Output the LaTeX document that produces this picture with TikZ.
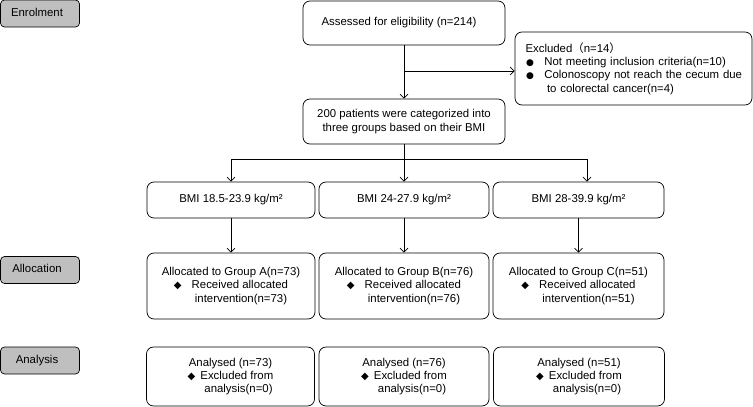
\documentclass[tikz,border=0pt]{standalone}
\usepackage{fontspec}
\setmainfont{Liberation Sans}
\newfontfamily\symf{DejaVu Sans}
\newfontfamily\cjk{Noto Sans CJK SC}
\usetikzlibrary{arrows.meta}
\newcommand{\dia}{{\symf\fontsize{10}{10}\selectfont ◆}}
\newcommand{\bul}{{\symf\fontsize{9}{9}\selectfont ●}}
\definecolor{stagegray}{HTML}{BFBFBF}
\begin{document}
\begin{tikzpicture}[x=1pt,y=-1pt,
  every node/.style={font=\fontsize{11.4}{13.2}\selectfont, inner sep=0pt},
  stage/.style={draw, line width=0.7pt, fill=stagegray, rounded corners=4pt, minimum width=79pt, minimum height=27pt},
  box/.style={draw, line width=0.7pt, rounded corners=7pt, align=center},
  conn/.style={line width=0.7pt},
  arr/.style={conn, -{Straight Barb[length=4pt,width=8pt]}}]
\useasboundingbox (0,0) rectangle (753,407);
% stage labels
\node[stage] (enrol) at (40,13.5) {\raisebox{2.5pt}{Enrolment}\hspace*{6pt}};
\node[stage] (alloc) at (40,270) {\raisebox{2.5pt}{Allocation}\hspace*{6pt}};
\node[stage] (anal) at (40,360.5) {\raisebox{2pt}{Analysis}\hspace*{6pt}};
% enrolment
\node[box, minimum width=202pt, minimum height=44pt] (assess) at (404,23) {Assessed for eligibility (n=214)\hspace*{10pt}};
\node[box, minimum width=237pt, minimum height=73pt, text width=228pt, align=left] (excl) at (633.5,68.5)
 {\hspace*{6pt}Excluded{\cjk （}n=14{\cjk ）}\\
  \hspace*{6.5pt}\bul\hspace{10.5pt}Not meeting inclusion criteria(n=10)\\
  \hspace*{6.5pt}\bul\hspace{10.5pt}Colonoscopy not reach the cecum due\\
  \hspace*{27.5pt}to colorectal cancer(n=4)};
\node[box, minimum width=202pt, minimum height=45pt] (pat) at (404,121.5) {200 patients were categorized into\\three groups based on their BMI};
% BMI
\node[box, minimum width=168pt, minimum height=36pt] (bmiA) at (231,200) {BMI 18.5-23.9 kg/m²};
\node[box, minimum width=170pt, minimum height=36pt] (bmiB) at (404,200) {BMI 24-27.9 kg/m²};
\node[box, minimum width=171pt, minimum height=36pt] (bmiC) at (578.5,200) {BMI 28-39.9 kg/m²};
% allocation
\node[box, minimum width=168pt, minimum height=66pt] (allA) at (231,286) {Allocated to Group A(n=73)\\ \dia\hspace{10pt}Received allocated\\ \hspace*{20pt}intervention(n=73)};
\node[box, minimum width=170pt, minimum height=66pt] (allB) at (404,286) {Allocated to Group B(n=76)\\ \dia\hspace{10pt}Received allocated\\ \hspace*{20pt}intervention(n=76)};
\node[box, minimum width=171pt, minimum height=66pt] (allC) at (578.5,286) {Allocated to Group C(n=51)\\ \dia\hspace{10pt}Received allocated\\ \hspace*{20pt}intervention(n=51)};
% analysis
\node[box, minimum width=168pt, minimum height=59pt] (anA) at (230.5,376.5) {Analysed (n=73)\\ \dia\hspace{5pt}Excluded from\\ \hspace*{16pt}analysis(n=0)};
\node[box, minimum width=170pt, minimum height=59pt] (anB) at (404,376.5) {Analysed (n=76)\\ \dia\hspace{5pt}Excluded from\\ \hspace*{16pt}analysis(n=0)};
\node[box, minimum width=171pt, minimum height=59pt] (anC) at (579,376.5) {Analysed (n=51)\\ \dia\hspace{5pt}Excluded from\\ \hspace*{16pt}analysis(n=0)};
% connectors
\coordinate (br) at (404,71);
\coordinate (split) at (404,159);
\coordinate (sA) at (231,159);
\coordinate (sC) at (587,159);
\draw[arr] (assess.south) -- (pat.north);
\draw[arr] (br) -- (br -| excl.west);
\draw[conn] (pat.south) -- (split);
\draw[conn] (sA) -- (sC);
\draw[arr] (sA) -- (sA |- bmiA.north);
\draw[arr] (split) -- (bmiB.north);
\draw[arr] (sC) -- (sC |- bmiC.north);
\draw[arr] (bmiA.south) -- (allA.north);
\draw[arr] (bmiB.south) -- (allB.north);
\draw[arr] (bmiC.south) -- (allC.north);
\end{tikzpicture}
\end{document}
